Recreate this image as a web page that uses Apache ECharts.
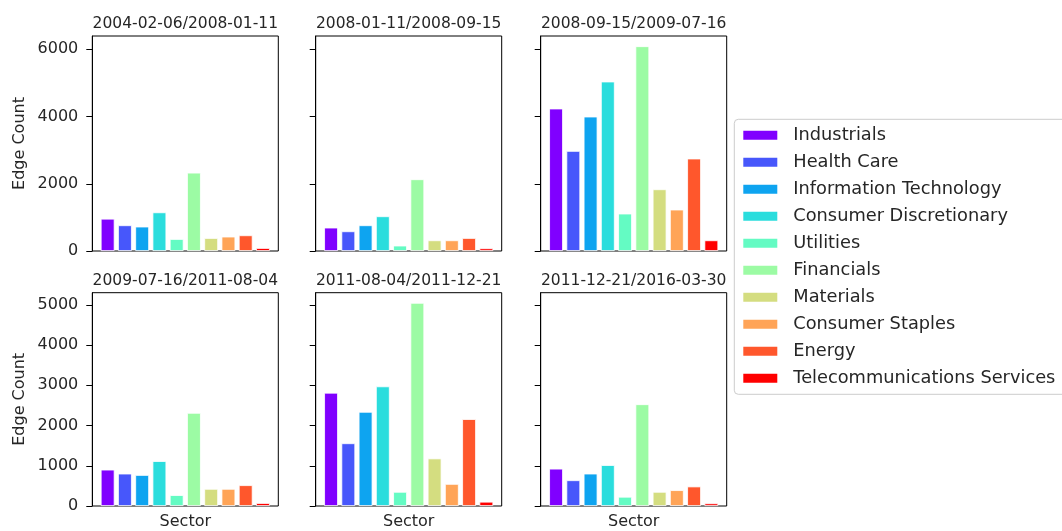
<!DOCTYPE html>
<html>
<head>
<meta charset="utf-8">
<script src="https://cdn.jsdelivr.net/npm/echarts@6/dist/echarts.min.js"></script>
<style>
html,body{margin:0;padding:0;background:#fff;}
#c{width:1062px;height:531px;}
</style>
</head>
<body>
<div id="c"></div>
<script>
// ---- data ----
const sectors = ['Industrials','Health Care','Information Technology','Consumer Discretionary','Utilities','Financials','Materials','Consumer Staples','Energy','Telecommunications Services'];
const periods = ['2004-02-06/2008-01-11','2008-01-11/2008-09-15','2008-09-15/2009-07-16','2009-07-16/2011-08-04','2011-08-04/2011-12-21','2011-12-21/2016-03-30'];
const edges2004_2008 = [960, 765, 726, 1150, 357, 2330, 387, 428, 467, 89];
const edges2008a = [696, 586, 765, 1033, 161, 2134, 318, 318, 387, 80];
const edges2008_2009 = [4238, 2976, 3999, 5041, 1113, 6092, 1836, 1232, 2750, 318];
const edges2009_2011 = [904, 805, 771, 1116, 271, 2315, 426, 426, 517, 74];
const edges2011 = [2815, 1559, 2340, 2973, 352, 5049, 1182, 549, 2160, 106];
const edges2011_2016 = [928, 640, 805, 1017, 229, 2529, 352, 394, 485, 66];
const topRowTicks = [0, 2000, 4000, 6000];
const bottomRowTicks = [0, 1000, 2000, 3000, 4000, 5000];

// ---- style ----
const colors = ['#8000ff','#4757fb','#0ea4f0','#2adddd','#64fbc3','#9cfba4','#d4dd80','#ffa457','#ff572c','#ff0000'];
const panels = [edges2004_2008, edges2008a, edges2008_2009, edges2009_2011, edges2011, edges2011_2016];
const rowTicks = [topRowTicks, bottomRowTicks];
const colLeft = [92.3, 315.7, 540.7];
const rowTop = [36, 292.7];
const titleTop = [16, 273];
const W = 186, H = 215;
const txt = '#262626';
const font = 'DejaVu Sans';

// matplotlib-like x limits for bar charts (width 0.8, 5% margins)
const n = sectors.length;
const lo = -0.4, hi = n - 1 + 0.4, pad = 0.05 * (hi - lo);
const xMin = lo - pad, xMax = hi + pad;
const barPx = 0.8 * W / (xMax - xMin);

const rowMax = [0, 1].map(r => 1.05 * Math.max(...panels.slice(r * 3, r * 3 + 3).flat()));

const grids = [], xAxes = [], yAxes = [], series = [], titles = [];
panels.forEach((vals, k) => {
  const r = Math.floor(k / 3), c = k % 3;
  grids.push({left: colLeft[c], top: rowTop[r], width: W, height: H, show: true, borderColor: '#000', borderWidth: 1, backgroundColor: 'transparent', containLabel: false});
  xAxes.push({
    gridIndex: k, type: 'value', min: xMin, max: xMax,
    axisLine: {show: false, onZero: false}, axisTick: {show: false}, axisLabel: {show: false}, splitLine: {show: false},
    name: r === 1 ? 'Sector' : '', nameLocation: 'middle', nameGap: 8,
    nameTextStyle: {fontSize: 16, color: txt, fontFamily: font}
  });
  yAxes.push({
    gridIndex: k, type: 'value', min: 0, max: rowMax[r], interval: r === 0 ? 2000 : 1000,
    axisLine: {show: true, onZero: false, lineStyle: {color: '#000', width: 1}},
    axisTick: {show: true, inside: false, length: 6, lineStyle: {color: '#000'}, customValues: rowTicks[r]},
    axisLabel: {show: c === 0, customValues: rowTicks[r], margin: 14, fontSize: 16, color: txt, fontFamily: font,
      formatter: v => String(v)},
    splitLine: {show: false},
    name: c === 0 ? 'Edge Count' : '', nameLocation: 'middle', nameRotate: 90, nameGap: 64,
    nameTextStyle: {fontSize: 16, color: txt, fontFamily: font}
  });
  titles.push({
    text: periods[k], left: colLeft[c] + W / 2, top: titleTop[r], textAlign: 'center', padding: 0,
    textStyle: {fontSize: 15.5, fontWeight: 'normal', color: txt, fontFamily: font}
  });
  sectors.forEach((s, i) => {
    series.push({
      type: 'bar', name: s, xAxisIndex: k, yAxisIndex: k,
      data: [[i, vals[i]]], barWidth: barPx, barGap: '-100%',
      itemStyle: {color: colors[i], borderColor: '#ffffff', borderWidth: 0.8},
      emphasis: {disabled: true}
    });
  });
});

const chart = echarts.init(document.getElementById('c'), null, {renderer: 'canvas'});
chart.setOption({
  animation: false,
  backgroundColor: '#fff',
  title: titles,
  grid: grids,
  xAxis: xAxes,
  yAxis: yAxes,
  legend: {
    data: sectors, orient: 'vertical', left: 734.3, top: 119.3,
    itemWidth: 36, itemHeight: 11, itemGap: 9, icon: 'rect',
    padding: [7, 12, 7, 7], borderColor: '#cccccc', borderWidth: 1, borderRadius: 4,
    backgroundColor: '#fff', selectedMode: false,
    textStyle: {fontSize: 17.8, lineHeight: 17, color: txt, fontFamily: font, padding: [0, 0, 0, 10]}
  },
  series: series
});
</script>
</body>
</html>
